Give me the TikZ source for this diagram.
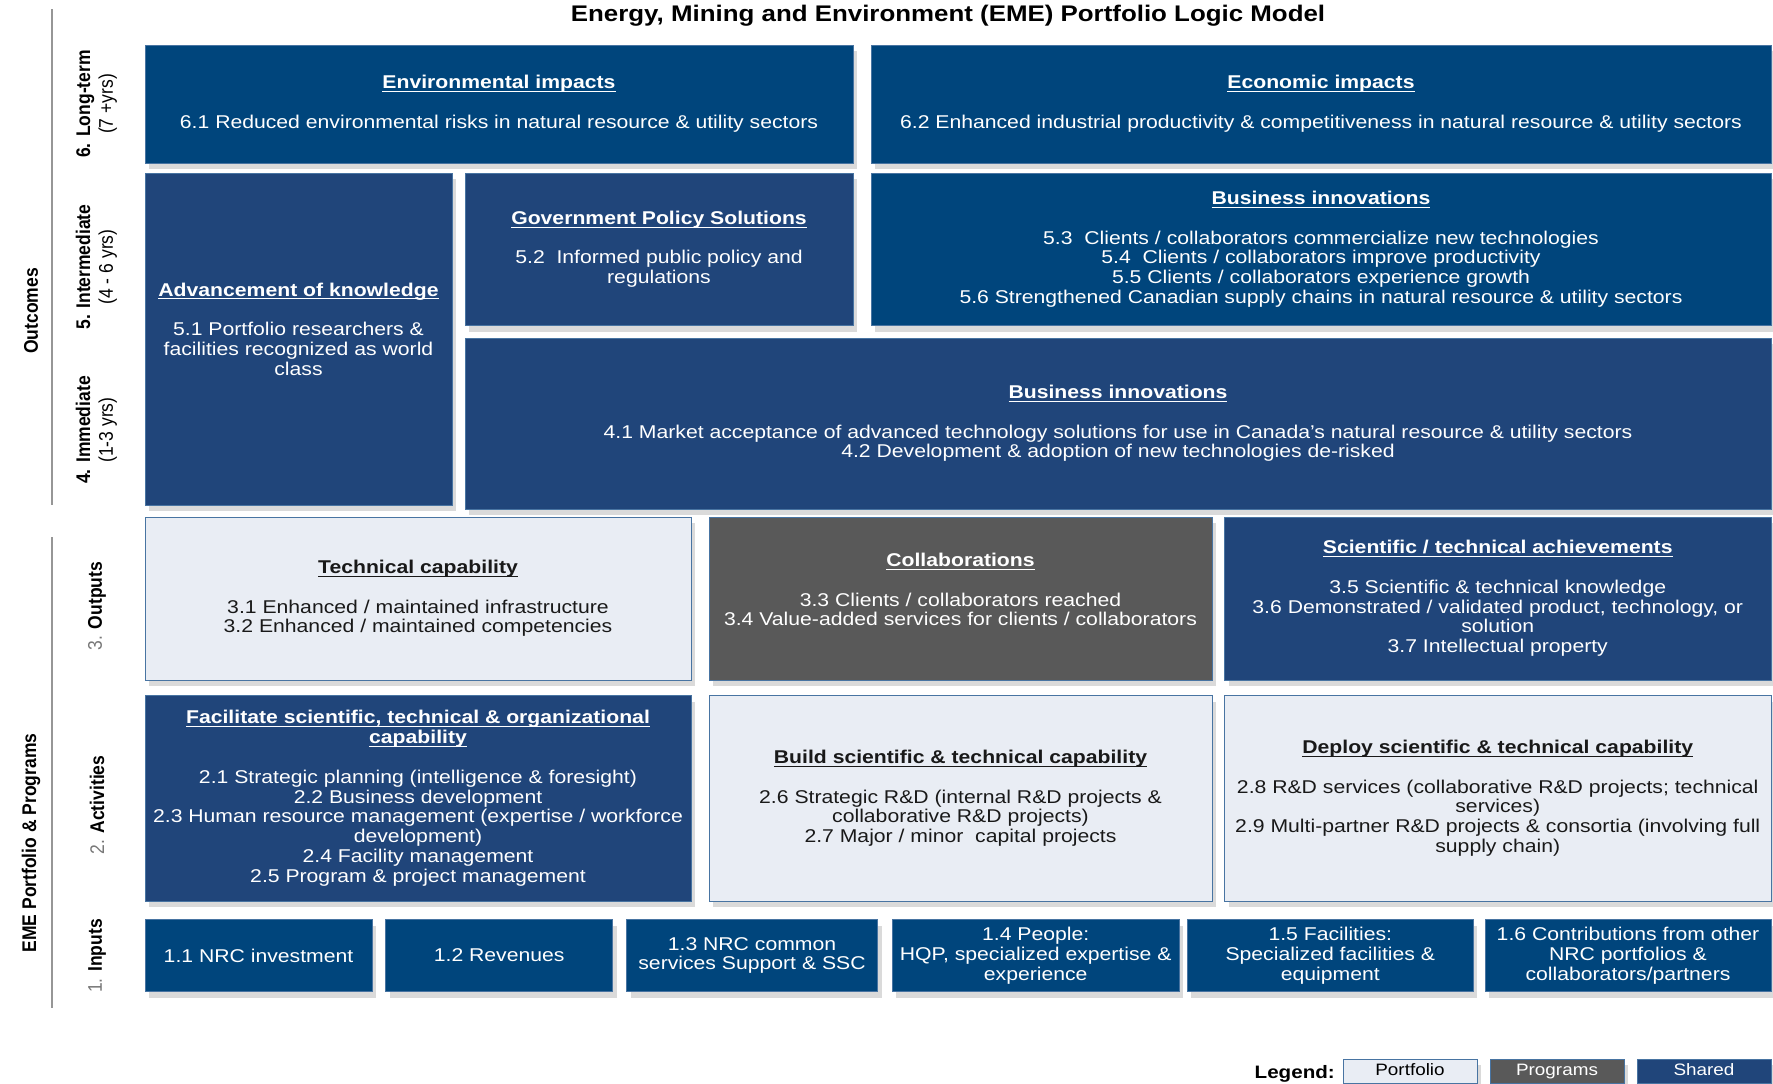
\documentclass[tikz,border=0pt]{standalone}
\usepackage{fontspec}
\usepackage{graphicx}
\setmainfont{Liberation Sans}[FakeStretch=1.145]
\newfontfamily\rotfont{Liberation Sans}
\usetikzlibrary{shadows}
\definecolor{navyA}{RGB}{0,69,124}
\definecolor{navyB}{RGB}{32,69,122}
\definecolor{grayC}{RGB}{89,89,89}
\definecolor{lightC}{RGB}{233,237,244}
\definecolor{edgeC}{RGB}{72,116,162}
\definecolor{shadowC}{RGB}{218,218,218}
\definecolor{lineC}{RGB}{150,150,150}
\definecolor{numC}{RGB}{120,120,120}
\newcommand{\hd}[1]{\leavevmode\setbox0\hbox{\textbf{#1}}\rlap{\rule[-3.2pt]{\wd0}{1pt}}\box0}
\tikzset{
  basebox/.style={rectangle, inner sep=0pt, draw=edgeC, line width=0.9pt, align=center,
    font=\fontsize{18.5}{19.8}\selectfont,
    drop shadow={shadow xshift=4pt, shadow yshift=-6pt, fill=shadowC, opacity=1}},
  boxA/.style={basebox, fill=navyA, text=white},
  boxB/.style={basebox, fill=navyB, text=white},
  boxG/.style={basebox, fill=grayC, text=white},
  boxL/.style={basebox, fill=lightC, text=black!90},
  txt/.style={inner sep=0pt, align=center, font=\fontsize{18.5}{19.8}\selectfont, text=white},
  rowlab/.style={rotate=90, inner sep=0pt, font=\rotfont\fontsize{17.5}{20}\selectfont},
  sideline/.style={draw=lineC, line width=1.8pt},
  legbox/.style={basebox, font=\fontsize{16.5}{18}\selectfont, minimum width=134pt, minimum height=24pt,
    text height=12pt, text depth=3.5pt}
}
\begin{document}
\begin{tikzpicture}[x=1pt,y=-1pt]
\useasboundingbox[fill=white] (0,0) rectangle (1773,1084);

% title
\node[anchor=base, inner sep=0pt, font=\bfseries\fontsize{22.6}{24}\selectfont] (title) at (948,21.7)
  {Energy, Mining and Environment (EME) Portfolio Logic Model};

% side lines
\coordinate (o1) at (52,9);
\coordinate (o2) at (52,505);
\coordinate (p1) at (52,537);
\coordinate (p2) at (52,1008);
\draw[sideline] (o1) -- (o2);
\draw[sideline] (p1) -- (p2);

% side labels
\node[rowlab] (outc) at (31,311) {\scalebox{1}[1.13]{\textbf{Outcomes}}};
\node[rowlab] (eme) at (31,843) {\scalebox{1}[1.13]{\textbf{EME Portfolio \& Programs}}};
\node[rowlab] (l6) at (97,104) {\scalebox{1}[1.13]{\begin{tabular}{@{}c@{}}\textbf{6. Long-term}\\(7 +yrs)\end{tabular}}};
\node[rowlab] (l5) at (97,267) {\scalebox{1}[1.13]{\begin{tabular}{@{}c@{}}\textbf{5. Intermediate}\\(4 - 6 yrs)\end{tabular}}};
\node[rowlab] (l4) at (97,430) {\scalebox{1}[1.13]{\begin{tabular}{@{}c@{}}\textbf{4. Immediate}\\(1-3 yrs)\end{tabular}}};
\node[rowlab] (l3) at (97,606) {\scalebox{1}[1.13]{{\color{numC}3.} \textbf{Outputs}}};
\node[rowlab] (l2) at (97,805) {\scalebox{1}[1.13]{{\color{numC}2.} \textbf{Activities}}};
\node[rowlab] (l1) at (97,956) {\scalebox{1}[1.13]{{\color{numC}1.} \textbf{Inputs}}};

% row 6
\node[boxA, minimum width=708pt, minimum height=118pt] (env) at (499,104)
  {\hd{Environmental impacts}\\[19.8pt]
   6.1 Reduced environmental risks in natural resource \& utility sectors};
\node[boxA, minimum width=900pt, minimum height=118pt] (econ) at (1321,104)
  {\hd{Economic impacts}\\[19.8pt]
   6.2 Enhanced industrial productivity \& competitiveness in natural resource \& utility sectors};

% rows 5 and 4
\node[boxB, minimum width=307pt, minimum height=332pt] (adv) at (298.5,339) {};
\node[txt] (advT) at ([yshift=10pt]adv.center)
  {\hd{Advancement of knowledge}\\[19.8pt]
   5.1 Portfolio researchers \&\\facilities recognized as world\\class};
\node[boxB, minimum width=388pt, minimum height=152.5pt] (gov) at (659,249.25)
  {\hd{Government Policy Solutions}\\[19.8pt]
   5.2\ \ Informed public policy and\\regulations};
\node[boxA, minimum width=900pt, minimum height=152.5pt] (bus5) at (1321,249.25)
  {\hd{Business innovations}\\[19.8pt]
   5.3\ \ Clients / collaborators commercialize new technologies\\
   5.4\ \ Clients / collaborators improve productivity\\
   5.5 Clients / collaborators experience growth\\
   5.6 Strengthened Canadian supply chains in natural resource \& utility sectors};
\node[boxB, minimum width=1306pt, minimum height=171pt] (bus4) at (1118,423.5)
  {\hd{Business innovations}\\[19.8pt]
   4.1 Market acceptance of advanced technology solutions for use in Canada's natural resource \& utility sectors\\
   4.2 Development \& adoption of new technologies de-risked};

% row 3 outputs
\node[boxL, minimum width=546pt, minimum height=163pt] (tech) at (418,598.5)
  {\hd{Technical capability}\\[19.8pt]
   3.1 Enhanced / maintained infrastructure\\
   3.2 Enhanced / maintained competencies};
\node[boxG, minimum width=503pt, minimum height=163pt] (collab) at (960.5,598.5) {};
\node[txt] (collabT) at ([yshift=9pt]collab.center)
  {\hd{Collaborations}\\[19.8pt]
   3.3 Clients / collaborators reached\\
   3.4 Value-added services for clients / collaborators};
\node[boxB, minimum width=546.5pt, minimum height=163pt] (sci) at (1497.75,598.5)
  {\hd{Scientific / technical achievements}\\[19.8pt]
   3.5 Scientific \& technical knowledge\\
   3.6 Demonstrated / validated product, technology, or\\
   solution\\
   3.7 Intellectual property};

% row 2 activities
\node[boxB, minimum width=546pt, minimum height=205.5pt] (facil) at (418,798.25)
  {\hd{Facilitate scientific, technical \& organizational}\\
   \hd{capability}\\[19.8pt]
   2.1 Strategic planning (intelligence \& foresight)\\
   2.2 Business development\\
   2.3 Human resource management (expertise / workforce\\
   development)\\
   2.4 Facility management\\
   2.5 Program \& project management};
\node[boxL, minimum width=503pt, minimum height=205.5pt] (build) at (960.5,798.25)
  {\hd{Build scientific \& technical capability}\\[19.8pt]
   2.6 Strategic R\&D (internal R\&D projects \&\\
   collaborative R\&D projects)\\
   2.7 Major / minor\ \ capital projects};
\node[boxL, minimum width=546.5pt, minimum height=205.5pt] (deploy) at (1497.75,798.25)
  {\hd{Deploy scientific \& technical capability}\\[19.8pt]
   2.8 R\&D services (collaborative R\&D projects; technical\\
   services)\\
   2.9 Multi-partner R\&D projects \& consortia (involving full\\
   supply chain)};

% row 1 inputs
\node[boxA, minimum width=227pt, minimum height=72pt] (i1) at (258.5,955.5) {1.1 NRC investment};
\node[boxA, minimum width=227pt, minimum height=72pt] (i2) at (499.2,955.5) {1.2 Revenues};
\node[boxA, minimum width=251pt, minimum height=72pt] (i3) at (752,955.5) {1.3 NRC common\\services Support \& SSC};
\node[boxA, minimum width=287pt, minimum height=72pt] (i4) at (1035.7,955.5) {1.4 People:\\HQP, specialized expertise \&\\experience};
\node[boxA, minimum width=286pt, minimum height=72pt] (i5) at (1330.3,955.5) {1.5 Facilities:\\Specialized facilities \&\\equipment};
\node[boxA, minimum width=286pt, minimum height=72pt] (i6) at (1628,955.5) {1.6 Contributions from other\\NRC portfolios \&\\collaborators/partners};

% legend
\node[anchor=base east, inner sep=0pt, font=\bfseries\fontsize{18}{20}\selectfont] (leg) at (1335,1078) {Legend:};
\node[legbox, fill=lightC, text=black] (lp) at (1410,1071) {Portfolio};
\node[legbox, fill=grayC, text=white] (lg) at (1557,1071) {Programs};
\node[legbox, fill=navyB, text=white] (ls) at (1704,1071) {Shared};
\end{tikzpicture}
\end{document}
